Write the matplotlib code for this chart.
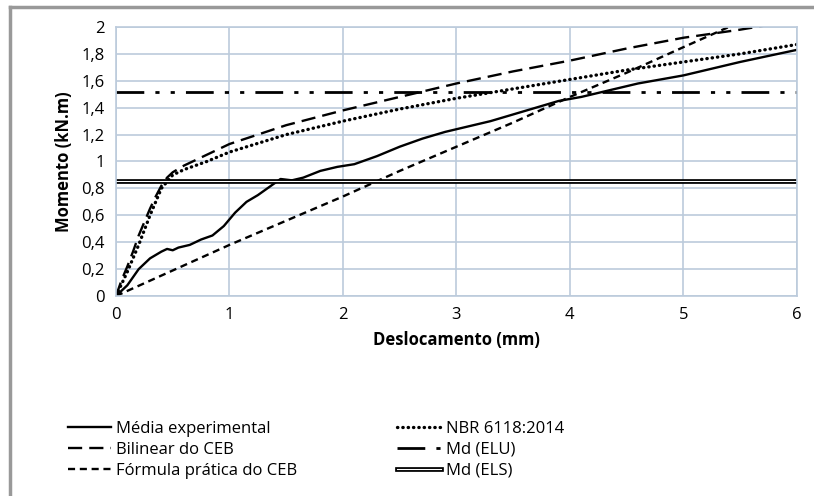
import numpy as np
import matplotlib.pyplot as plt
import matplotlib.patheffects as pe
from matplotlib.lines import Line2D
from matplotlib.ticker import FuncFormatter

# Média experimental
x_exp = [0, 0.1, 0.2, 0.3, 0.4, 0.45, 0.5, 0.55, 0.65, 0.75, 0.85, 0.95, 1.05, 1.15, 1.25,
         1.35, 1.45, 1.55, 1.65, 1.8, 1.95, 2.1, 2.3, 2.5, 2.7, 2.9, 3.1, 3.3, 3.5, 3.7,
         3.9, 4.1, 4.3, 4.6, 5.0, 5.5, 6.0]
y_exp = [0, 0.08, 0.2, 0.28, 0.33, 0.35, 0.34, 0.36, 0.38, 0.42, 0.45, 0.52, 0.62, 0.70, 0.75,
         0.81, 0.87, 0.86, 0.88, 0.93, 0.96, 0.98, 1.04, 1.11, 1.17, 1.22, 1.26, 1.30, 1.35, 1.40,
         1.45, 1.48, 1.52, 1.58, 1.64, 1.74, 1.83]
# Bilinear do CEB
x_bil = [0, 0.05, 0.1, 0.15, 0.2, 0.25, 0.3, 0.35, 0.4, 0.45, 0.5, 0.6, 0.8, 1, 1.5, 2, 2.5,
         3, 3.5, 4, 4.5, 5, 5.5, 6]
y_bil = [0, 0.12, 0.22, 0.33, 0.45, 0.55, 0.65, 0.74, 0.82, 0.88, 0.92, 0.97, 1.05, 1.13, 1.27,
         1.38, 1.48, 1.58, 1.67, 1.75, 1.84, 1.92, 1.98, 2.05]
# NBR 6118:2014
x_nbr = [0, 0.1, 0.2, 0.3, 0.4, 0.5, 0.6, 0.8, 1, 1.5, 2, 2.5, 3, 3.5, 4, 4.5, 5, 5.5, 6]
y_nbr = [0, 0.18, 0.38, 0.6, 0.8, 0.9, 0.94, 1.0, 1.07, 1.2, 1.3, 1.39, 1.47, 1.54, 1.61, 1.68,
         1.74, 1.8, 1.87]
# Fórmula prática do CEB
x_fp = [0, 0.5, 1, 1.5, 2, 2.5, 3, 3.5, 4, 4.5, 5, 5.4, 6]
y_fp = [0, 0.19, 0.38, 0.56, 0.74, 0.93, 1.11, 1.29, 1.48, 1.66, 1.85, 2.0, 2.22]
md_elu = 1.52
md_els = 0.855

plt.rcParams['font.family'] = ['Open Sans', 'DejaVu Sans']
fig = plt.figure(figsize=(8.14, 4.96), dpi=100)
ax = fig.add_axes([0.1425, 0.4032, 0.8365, 0.5424])

lw = 1.7
ax.plot(x_exp, y_exp, color='black', lw=lw, label='Média experimental')
ax.plot(x_bil, y_bil, color='black', lw=lw, dashes=(6, 3), label='Bilinear do CEB')
ax.plot(x_fp, y_fp, color='black', lw=lw, dashes=(3, 2), label='Fórmula prática do CEB')
ax.plot(x_nbr, y_nbr, color='black', lw=2.4, dashes=(0.1, 1.5), dash_capstyle='round',
        label='NBR 6118:2014')
ax.axhline(md_elu, color='black', lw=2, dashes=(10, 4, 1.5, 4, 1.5, 4), label='Md (ELU)')
ax.axhline(md_els, color='white', lw=0.8, label='Md (ELS)',
           path_effects=[pe.Stroke(linewidth=3.4, foreground='black'), pe.Normal()])

ax.set_xlim(0, 6)
ax.set_ylim(0, 2)
ax.set_xticks(range(7))
ax.set_yticks(np.arange(0, 2.01, 0.2))
ax.yaxis.set_major_formatter(FuncFormatter(lambda v, p: ('%g' % round(v, 1)).replace('.', ',')))
ax.grid(True, color='#bccbdc', lw=1.2)
ax.set_axisbelow(True)
for s in ax.spines.values():
    s.set_color('#bccbdc')
    s.set_linewidth(1.2)
ax.tick_params(length=0, labelsize=12, pad=8)
ax.set_xlabel('Deslocamento (mm)', fontsize=12, fontweight='bold', labelpad=6)
ax.set_ylabel('Momento (kN.m)', fontsize=12, fontweight='bold', labelpad=6)

fig.legend(loc='lower left', bbox_to_anchor=(0.065, 0.005), ncol=2, frameon=False,
           fontsize=12, handlelength=2.6, handletextpad=0.3, columnspacing=6.0,
           labelspacing=0.28)

# gray frame on left and top
fig.add_artist(Line2D([0.012, 0.012], [0, 0.985], transform=fig.transFigure,
                      color='#999999', lw=2.5))
fig.add_artist(Line2D([0.012, 1.0], [0.985, 0.985], transform=fig.transFigure,
                      color='#999999', lw=2.5))

fig.savefig('out.png', dpi=100)
